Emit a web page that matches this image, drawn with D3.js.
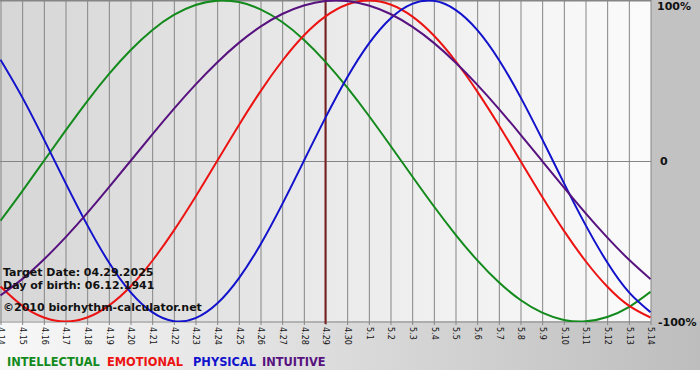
<!DOCTYPE html>
<html><head><meta charset="utf-8">
<script src="https://cdn.jsdelivr.net/npm/d3@7/dist/d3.min.js"></script>
<style>html,body{margin:0;padding:0;background:#fff;}svg{display:block;}</style>
</head><body><svg id="c" width="700" height="380"></svg>
<script>
const dates = ["4.14","4.15","4.16","4.17","4.18","4.19","4.20","4.21","4.22","4.23","4.24","4.25","4.26","4.27","4.28","4.29","4.30","5.1","5.2","5.3","5.4","5.5","5.6","5.7","5.8","5.9","5.10","5.11","5.12","5.13","5.14"];
const intellectual = [-0.372,-0.189,0,0.189,0.372,0.541,0.690,0.815,0.910,0.972,0.999,0.990,0.945,0.866,0.756,0.618,0.458,0.282,0.095,-0.095,-0.282,-0.458,-0.618,-0.756,-0.866,-0.945,-0.990,-0.999,-0.972,-0.910,-0.815];
const emotional = [-0.782,-0.901,-0.975,-1,-0.975,-0.901,-0.782,-0.623,-0.434,-0.223,0,0.223,0.434,0.623,0.782,0.901,0.975,1,0.975,0.901,0.782,0.623,0.434,0.223,0,-0.223,-0.434,-0.623,-0.782,-0.901,-0.975];
const physical = [0.631,0.398,0.136,-0.136,-0.398,-0.631,-0.817,-0.942,-0.998,-0.979,-0.888,-0.731,-0.520,-0.270,0,0.270,0.520,0.731,0.888,0.979,0.998,0.942,0.817,0.631,0.398,0.136,-0.136,-0.398,-0.631,-0.817,-0.942];
const intuitive = [-0.837,-0.736,-0.614,-0.476,-0.325,-0.165,0,0.165,0.325,0.476,0.614,0.736,0.837,0.916,0.969,0.997,0.997,0.969,0.916,0.837,0.736,0.614,0.476,0.325,0.165,0,-0.165,-0.325,-0.476,-0.614,-0.736];
const yTicks = [1, 0, -1];
const yTickLabels = ["100%", "0", "-100%"];
const targetDate = "4.29";
const infoLines = ["Target Date: 04.29.2025", "Day of birth: 06.12.1941"];
const copyright = "©2010 biorhythm-calculator.net";
const legendNames = ["INTELLECTUAL", "EMOTIONAL", "PHYSICAL", "INTUITIVE"];

const svg = d3.select("#c");
const W = 700, H = 380;
const plotW = 651, plotTop = 1, plotBot = 321;
const defs = svg.append("defs");
const g1 = defs.append("linearGradient").attr("id","bgGrad").attr("x1","0").attr("x2","1").attr("y1","0").attr("y2","0");
g1.append("stop").attr("offset","0").attr("stop-color","#f8f8f8");
g1.append("stop").attr("offset","1").attr("stop-color","#bdbdbd");
const g2 = defs.append("linearGradient").attr("id","plotGrad").attr("x1","0").attr("x2","1").attr("y1","0").attr("y2","0");
g2.append("stop").attr("offset","0").attr("stop-color","#d6d6d6");
g2.append("stop").attr("offset","0.55").attr("stop-color","#ececec");
g2.append("stop").attr("offset","1").attr("stop-color","#fbfbfb");

svg.append("rect").attr("x",0).attr("y",0).attr("width",W).attr("height",370).attr("fill","url(#bgGrad)");
svg.append("rect").attr("x",plotW).attr("y",0).attr("width",W-plotW).attr("height",plotBot).attr("fill","#c2c2c2");
svg.append("rect").attr("x",0).attr("y",0).attr("width",plotW).attr("height",plotBot).attr("fill","url(#plotGrad)");

const x = d3.scalePoint().domain(dates).range([0.5, 650.5]);
const y = d3.scaleLinear().domain([-1, 1]).range([plotBot + 0.5, plotTop - 0.5]);

// vertical grid + ticks
const xAxis = d3.axisBottom(x).tickSize(plotBot + 4).tickPadding(3);
const gx = svg.append("g").call(xAxis);
gx.select(".domain").remove();
gx.selectAll(".tick line").attr("stroke","#858585").attr("stroke-width",1);
gx.selectAll(".tick text")
  .attr("transform", "translate(0," + (plotBot + 6) + ") rotate(90)")
  .attr("x", 0).attr("y", 0).attr("dy","0.33em")
  .attr("text-anchor","start")
  .attr("font-family","DejaVu Sans, Verdana, sans-serif").attr("font-size","8px").attr("fill","#111");

// horizontal lines
const gy = svg.append("g")
  .call(d3.axisRight(y).tickValues(yTicks).tickSize(plotW).tickFormat((d,i)=>yTickLabels[i]));
gy.select(".domain").remove();
gy.selectAll(".tick line").attr("stroke","#858585");
gy.selectAll(".tick text").attr("x", plotW + 4).attr("dy","0.33em")
  .attr("font-family","DejaVu Sans, Verdana, sans-serif").attr("font-weight","bold").attr("font-size","11px").attr("fill","#111")
  .attr("dx", (d)=> d===0 ? 5 : (d===1 ? 2 : 3))
  .attr("y", (d)=> d===1 ? 5 : 0);
svg.append("line").attr("x1",0).attr("x2",plotW).attr("y1",0.5).attr("y2",0.5).attr("stroke","#858585");

// target marker
svg.append("line").attr("x1",x(targetDate)).attr("x2",x(targetDate)).attr("y1",0).attr("y2",plotBot+3)
  .attr("stroke","#7a1f1f").attr("stroke-width",2);

const series = [
  {name:"INTELLECTUAL", vals:intellectual, color:"#138a1c"},
  {name:"EMOTIONAL", vals:emotional, color:"#ec1313"},
  {name:"PHYSICAL", vals:physical, color:"#1212cc"},
  {name:"INTUITIVE", vals:intuitive, color:"#57127f"}
];
const line = d3.line().x((d,i)=>x(dates[i])).y(d=>y(d)).curve(d3.curveNatural);
const clip = defs.append("clipPath").attr("id","pc");
clip.append("rect").attr("x",0).attr("y",0).attr("width",plotW).attr("height",plotBot+1);
const gl = svg.append("g").attr("clip-path","url(#pc)");
series.forEach(s=>{
  gl.append("path").attr("d", line(s.vals)).attr("fill","none").attr("stroke", s.color).attr("stroke-width",2);
});

// info text
const info = svg.append("g").attr("font-family","DejaVu Sans, Verdana, sans-serif").attr("font-weight","bold").attr("font-size","11px").attr("fill","#111");
info.append("text").attr("x",3).attr("y",276).text(infoLines[0]);
info.append("text").attr("x",3).attr("y",289).text(infoLines[1]);
info.append("text").attr("x",3).attr("y",311).text(copyright);

// legend
const legX = [7, 107, 193, 262];
const lg = svg.append("g").attr("font-family","DejaVu Sans, Verdana, sans-serif").attr("font-weight","bold").attr("font-size","11.4px");
legendNames.forEach((n,i)=>{
  lg.append("text").attr("x",legX[i]).attr("y",366).attr("fill",series[i].color).text(n);
});
</script></body></html>
